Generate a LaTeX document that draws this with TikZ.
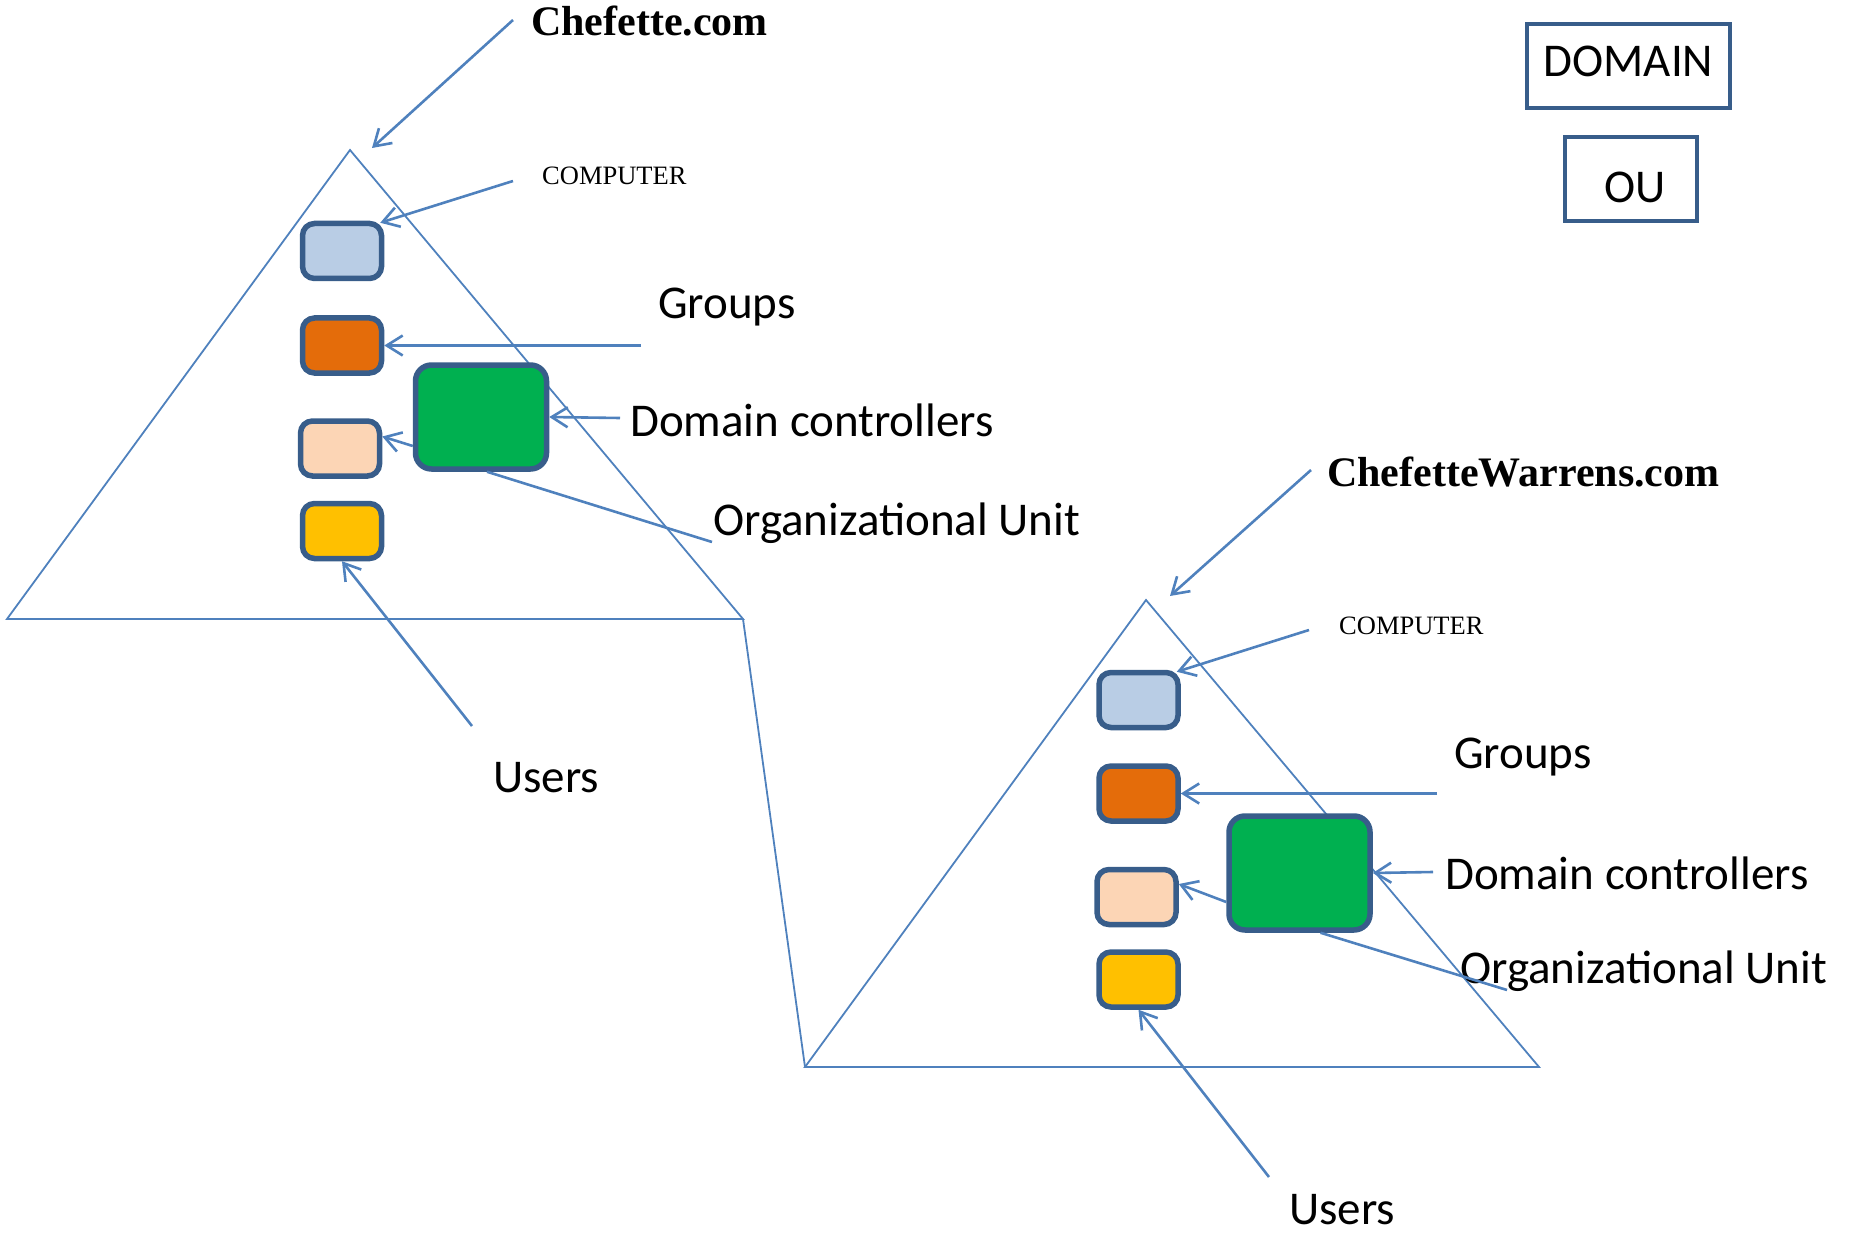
\documentclass[tikz,border=0pt]{standalone}
\usepackage{fontspec}
\setmainfont{Liberation Serif}
\newfontfamily\calib{Carlito}
\usetikzlibrary{arrows.meta,calc}
\definecolor{tri}{HTML}{4F81BD}
\definecolor{bord}{HTML}{385D8A}
\definecolor{cComp}{HTML}{B9CDE5}
\definecolor{cGrp}{HTML}{E46C0A}
\definecolor{cOU}{HTML}{FCD5B5}
\definecolor{cUsr}{HTML}{FFC000}
\definecolor{cDC}{HTML}{00B050}
\begin{document}
\begin{tikzpicture}[x=1pt,y=-1pt,
  box/.style={draw=bord,line width=5.5pt,rounded corners=12pt,minimum width=79pt,minimum height=55pt,inner sep=0pt},
  dcbox/.style={box,fill=cDC,rounded corners=16pt},
  triline/.style={draw=tri,line width=1.8pt,line join=miter},
  arr/.style={draw=tri,line width=2.6pt,-{Straight Barb[length=16pt,width=20pt,line width=2.6pt]}},
  plainline/.style={draw=tri,line width=2.6pt},
  lab/.style={font=\calib\fontsize{47}{56}\selectfont,anchor=base west,inner sep=0pt},
  blab/.style={font=\fontsize{42}{50}\selectfont\bfseries,anchor=base west,inner sep=0pt},
  slab/.style={font=\fontsize{26.5}{32}\selectfont,anchor=base west,inner sep=0pt},
  keybox/.style={draw=bord,line width=4pt,font=\calib\fontsize{47}{56}\selectfont,inner sep=0pt}
]
\useasboundingbox (0,0) rectangle (1858,1233);

% ---------- triangles ----------
\draw[triline] (350,150) -- (743,619) -- (7,619) -- cycle;
\draw[triline] (1146,600) -- (1539,1067) -- (805,1067) -- cycle;
\draw[triline] (743,619) -- (805,1067);

% ---------- left domain ----------
\node[box,fill=cComp] (compL) at (342,251) {};
\node[box,fill=cGrp]  (grpL)  at (342,345.5) {};
\node[box,fill=cOU]   (ouL)   at (340,448.5) {};
\node[box,fill=cUsr]  (usrL)  at (342,531) {};
\node[dcbox,minimum width=131pt,minimum height=104pt] (dcL) at (481,417) {};

\node[blab] (domL) at (531,36) {Chefette.com};
\node[slab] (computerL) at (542,185) {COMPUTER};
\node[lab] (groupsL) at (658,319) {Groups};
\node[lab] (dcLabL) at (630,436) {Domain controllers};
\node[lab] (ouLabL) at (713,535) {Organizational Unit};
\node[lab] (usersL) at (493,792) {Users};

\coordinate (tDomL) at (513,20);
\coordinate (hDomL) at (372,148);
\coordinate (tCompL) at (513,181);
\coordinate (tGrpL) at (641,345.5);
\coordinate (tDcL) at (620,418);
\coordinate (eOuL) at (712,542);
\coordinate (tUsrL) at (472,726);

\draw[arr] (tDomL) -- (hDomL);
\draw[arr] (tCompL) -- ($(compL.north east)+(-4,2)$);
\draw[arr] (tGrpL) -- (grpL.east);
\draw[arr] (tDcL) -- (dcL.east);
\draw[arr] ($(dcL.west)+(0,29)$) -- ($(ouL.east)+(0,-12)$);
\draw[plainline] ($(dcL.south)+(6,0)$) -- (eOuL);
\draw[arr] (tUsrL) -- (usrL.south);

% ---------- right domain ----------
\node[box,fill=cComp] (compR) at (1138.5,700) {};
\node[box,fill=cGrp]  (grpR)  at (1138.5,793.5) {};
\node[box,fill=cOU]   (ouR)   at (1136.5,897) {};
\node[box,fill=cUsr]  (usrR)  at (1138.5,979.5) {};
\node[dcbox,minimum width=141pt,minimum height=114pt] (dcR) at (1299.5,873) {};

\node[blab] (domR) at (1327,486) {ChefetteWarrens.com};
\node[slab] (computerR) at (1339,634) {COMPUTER};
\node[lab] (groupsR) at (1454,768) {Groups};
\node[lab] (dcLabR) at (1445,889) {Domain controllers};
\node[lab] (ouLabR) at (1460,983) {Organizational Unit};
\node[lab] (usersR) at (1289,1224) {Users};

\coordinate (tDomR) at (1311,470);
\coordinate (hDomR) at (1170,596);
\coordinate (tCompR) at (1309,630);
\coordinate (tGrpR) at (1437,793.5);
\coordinate (tDcR) at (1433,872);
\coordinate (eOuR) at (1507,990);
\coordinate (tUsrR) at (1269,1177);

\draw[arr] (tDomR) -- (hDomR);
\draw[arr] (tCompR) -- ($(compR.north east)+(-4,2)$);
\draw[arr] (tGrpR) -- (grpR.east);
\draw[arr] (tDcR) -- (dcR.east);
\draw[arr] ($(dcR.west)+(0,29)$) -- ($(ouR.east)+(0,-13)$);
\draw[plainline] ($(dcR.south)+(21,0)$) -- (eOuR);
\draw[arr] (tUsrR) -- (usrR.south);

% ---------- key ----------
\node[keybox,minimum width=203pt,minimum height=84pt,text depth=10pt] (keyDomain) at (1628.5,66) {DOMAIN};
\node[keybox,minimum width=132pt,minimum height=84pt,text height=48pt,text depth=0pt] (keyOU) at (1631,179) {\hspace*{8pt}OU};
\end{tikzpicture}
\end{document}
